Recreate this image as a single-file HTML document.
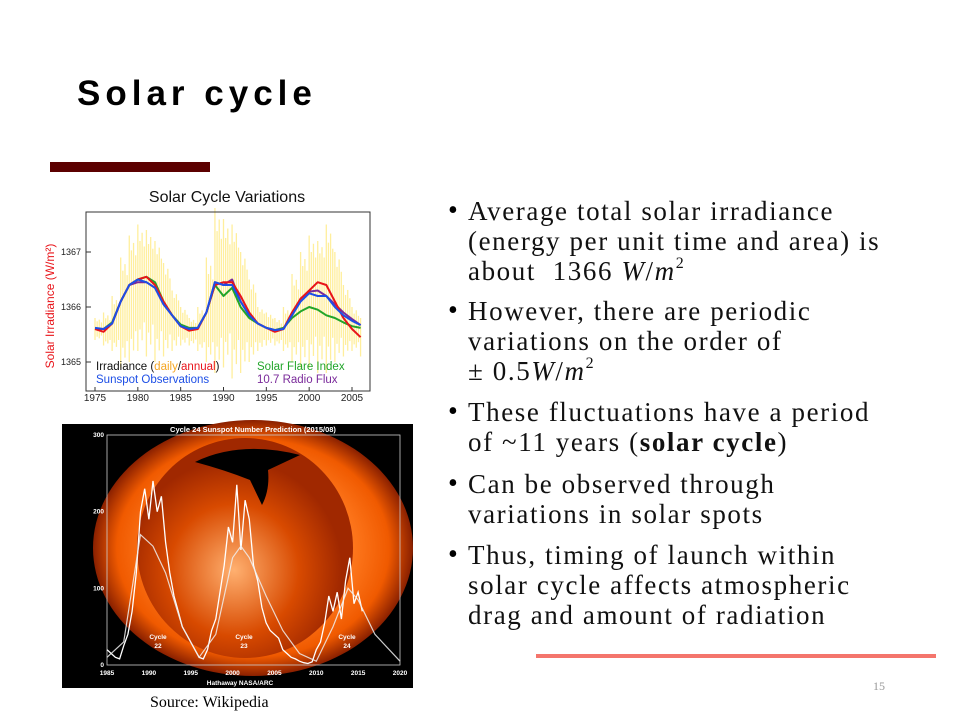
<!DOCTYPE html>
<html><head><meta charset="utf-8">
<style>
body{margin:0;width:960px;height:720px;background:#fff;position:relative;overflow:hidden;font-family:"Liberation Serif",serif;}
.t{position:absolute;white-space:nowrap;}
.line{position:absolute;left:468px;font-size:27px;letter-spacing:1.6px;color:#111;line-height:30px;white-space:nowrap;}
.bul{position:absolute;left:448px;font-size:28px;line-height:30px;}
i{font-family:"Liberation Serif",serif;}
sup{font-size:16px;line-height:0;position:relative;top:-2px;}
</style></head><body>
<div class="t" style="left:77px;top:74px;font:bold 35px 'Liberation Sans',sans-serif;letter-spacing:5px;color:#000;">Solar cycle</div>
<div style="position:absolute;left:50px;top:162px;width:160px;height:10px;background:#5c0000;"></div>

<svg id="top" style="position:absolute;left:0;top:0" width="960" height="720"></svg>

<div>
<div class="bul" style="top:196px">•</div>
<div class="line" style="top:196px">Average total solar irradiance</div>
<div class="line" style="top:226px">(energy per unit time and area) is</div>
<div class="line" style="top:256px">about &nbsp;1366 <i>W</i>/<i>m</i><sup>2</sup></div>
<div class="bul" style="top:296px">•</div>
<div class="line" style="top:296px">However, there are periodic</div>
<div class="line" style="top:326px">variations on the order of</div>
<div class="line" style="top:356px">± 0.5<i>W</i>/<i>m</i><sup>2</sup></div>
<div class="bul" style="top:397px">•</div>
<div class="line" style="top:397px">These fluctuations have a period</div>
<div class="line" style="top:427px">of ~11 years (<b>solar cycle</b>)</div>
<div class="bul" style="top:469px">•</div>
<div class="line" style="top:469px">Can be observed through</div>
<div class="line" style="top:499px">variations in solar spots</div>
<div class="bul" style="top:540px">•</div>
<div class="line" style="top:540px">Thus, timing of launch within</div>
<div class="line" style="top:570px">solar cycle affects atmospheric</div>
<div class="line" style="top:600px">drag and amount of radiation</div>
</div>
<div style="position:absolute;left:536px;top:654px;width:400px;height:4px;background:#f4756c;"></div>
<div class="t" style="left:873px;top:679px;font-size:12px;color:#999;">15</div>
<div class="t" style="left:150px;top:694px;font-size:16px;color:#000;">Source: Wikipedia</div>

<script>
// ---- Top chart data (Solar Cycle Variations) ----
const years=[1975,1976,1977,1978,1979,1980,1981,1982,1983,1984,1985,1986,1987,1988,1989,1990,1991,1992,1993,1994,1995,1996,1997,1998,1999,2000,2001,2002,2003,2004,2005,2006];
const annualRed=[1365.6,1365.55,1365.7,1366.1,1366.4,1366.5,1366.55,1366.4,1366.1,1365.85,1365.65,1365.57,1365.6,1365.9,1366.4,1366.45,1366.45,1366.2,1365.9,1365.7,1365.62,1365.55,1365.6,1365.9,1366.15,1366.3,1366.45,1366.4,1366.1,1365.8,1365.6,1365.45];
const sunspotBlue=[1365.62,1365.6,1365.7,1366.1,1366.4,1366.5,1366.45,1366.35,1366.05,1365.85,1365.65,1365.6,1365.62,1365.9,1366.45,1366.4,1366.4,1366.1,1365.85,1365.7,1365.62,1365.58,1365.6,1365.85,1366.1,1366.25,1366.2,1366.2,1366.0,1365.85,1365.75,1365.67];
const flareGreen=[1365.6,1365.6,1365.72,1366.1,1366.4,1366.5,1366.55,1366.45,1366.1,1365.85,1365.68,1365.62,1365.62,1365.9,1366.4,1366.2,1366.35,1366.0,1365.8,1365.7,1365.62,1365.58,1365.62,1365.8,1365.92,1366.0,1365.95,1365.85,1365.8,1365.72,1365.65,1365.62];
const radioPurple=[1365.6,1365.6,1365.7,1366.1,1366.4,1366.45,1366.45,1366.35,1366.05,1365.85,1365.65,1365.6,1365.62,1365.9,1366.45,1366.4,1366.5,1366.1,1365.85,1365.7,1365.62,1365.58,1365.6,1365.85,1366.15,1366.28,1366.3,1366.2,1366.05,1365.9,1365.78,1365.67];
const dailyHigh=[1365.8,1365.9,1366.2,1366.9,1367.3,1367.5,1367.4,1367.2,1366.8,1366.3,1366.0,1365.8,1366.0,1366.9,1367.8,1367.6,1367.5,1367.0,1366.5,1366.0,1365.9,1365.8,1366.0,1366.6,1367.0,1367.3,1367.2,1367.5,1367.0,1366.4,1366.0,1365.8];
const dailyLow=[1365.4,1365.3,1365.2,1364.9,1365.0,1365.2,1365.1,1365.0,1365.1,1365.2,1365.3,1365.3,1365.2,1365.0,1364.8,1364.9,1364.7,1364.8,1365.0,1365.2,1365.3,1365.3,1365.2,1365.0,1364.9,1364.9,1364.8,1364.8,1365.0,1365.1,1365.2,1365.1];
const xTicks=[1975,1980,1985,1990,1995,2000,2005];
const yTicks=[1365,1366,1367];
// ---- Bottom chart data (Cycle 24 sunspot prediction) ----
const ssYears=[1985,1985.5,1986,1986.5,1987,1987.5,1988,1988.5,1989,1989.5,1990,1990.5,1991,1991.5,1992,1992.5,1993,1993.5,1994,1994.5,1995,1995.5,1996,1996.5,1997,1997.5,1998,1998.5,1999,1999.5,2000,2000.5,2001,2001.5,2002,2002.5,2003,2003.5,2004,2004.5,2005,2005.5,2006,2006.5,2007,2007.5,2008,2008.5,2009,2009.5,2010,2010.5,2011,2011.5,2012,2012.5,2013,2013.5,2014,2014.5,2015,2015.5];
const ssValues=[20,15,10,8,25,40,70,120,200,230,190,240,200,220,160,120,90,70,50,40,30,20,10,8,20,45,60,95,130,180,160,235,150,215,190,130,110,75,55,45,40,35,20,15,10,8,5,3,2,4,20,30,55,90,70,95,60,110,140,80,95,70];
const predYears=[1985,1987,1989,1990.5,1992,1994,1996,1998,2000,2001,2002,2004,2006,2008,2010,2012,2013.8,2015,2017,2020];
const predValues=[10,30,170,155,120,50,10,40,140,155,140,90,45,15,5,50,100,85,40,5];
const ssTicksX=[1985,1990,1995,2000,2005,2010,2015,2020];
const ssTicksY=[0,100,200,300];

const NS='http://www.w3.org/2000/svg';
const svg=document.getElementById('top');
function el(tag,attrs,parent){const e=document.createElementNS(NS,tag);for(const k in attrs)e.setAttribute(k,attrs[k]);(parent||svg).appendChild(e);return e;}
function txt(x,y,s,attrs){const e=el('text',Object.assign({x:x,y:y},attrs));e.textContent=s;return e;}

const X=y=>95+(y-1975)*(352-95)/30;
const Y=v=>307-(v-1366)*55;
const g1=el('g',{});


el('rect',{x:86,y:212,width:284,height:179,fill:'#fff',stroke:'#333','stroke-width':1},g1);
for(let i=0;i<years.length;i++){
  for(let k=0;k<4;k++){
    const yr=years[i]+k*0.25;
    if(yr>2006.2)continue;
    const f=[1,0.7,0.85,0.6][k];
    const mid=annualRed[i];
    const s=el('line',{x1:X(yr),x2:X(yr),y1:Y(mid+(dailyHigh[i]-mid)*f),y2:Y(mid-(mid-dailyLow[i])*f),stroke:'#ffe45c','stroke-width':1.3,opacity:0.6},g1);
    
    
  }
}
function series(arr,color,name,w){
  let d='';arr.forEach((v,i)=>{d+=(i?'L':'M')+X(years[i]).toFixed(1)+','+Y(v).toFixed(1);});
  const p=el('path',{d:d,fill:'none',stroke:color,'stroke-width':w||2,'stroke-linejoin':'round'},g1);
  
  
}
series(flareGreen,'#22a52a','solar-flare-index-line');
series(radioPurple,'#7a2a9a','radio-flux-line');
series(annualRed,'#e8141a','annual-irradiance-line');
series(sunspotBlue,'#1d4fe6','sunspot-observations-line');
el('rect',{x:86,y:212,width:284,height:179,fill:'none',stroke:'#333','stroke-width':1},g1);
xTicks.forEach(t=>{el('line',{x1:X(t),x2:X(t),y1:391,y2:387,stroke:'#333'},g1);const e=txt(X(t),401,t,{'font-family':'Liberation Sans','font-size':10,'text-anchor':'middle',fill:'#222'},);});
yTicks.forEach(t=>{el('line',{x1:86,x2:91,y1:Y(t),y2:Y(t),stroke:'#333'},g1);const e=txt(81,Y(t)+3,t,{'font-family':'Liberation Sans','font-size':9,'text-anchor':'end',fill:'#222'});});
const tt=txt(227,202,'Solar Cycle Variations',{'font-family':'Liberation Sans','font-size':16,'text-anchor':'middle',fill:'#111'});

const yt=txt(0,0,'Solar Irradiance (W/m²)',{'font-family':'Liberation Sans','font-size':12,'text-anchor':'middle',fill:'#e8141a',transform:'translate(54,306) rotate(-90)'});

const lg=txt(96,370,'',{'font-family':'Liberation Sans','font-size':11.5,fill:'#111'});
lg.innerHTML='Irradiance (<tspan fill="#f5a623">daily</tspan>/<tspan fill="#e8141a">annual</tspan>)';

const l2=txt(96,383,'Sunspot Observations',{'font-family':'Liberation Sans','font-size':11.5,fill:'#1d4fe6'});
const l3=txt(257,370,'Solar Flare Index',{'font-family':'Liberation Sans','font-size':11.5,fill:'#22a52a'});
const l4=txt(257,383,'10.7 Radio Flux',{'font-family':'Liberation Sans','font-size':11.5,fill:'#7a2a9a'});

const defs=el('defs',{});
defs.innerHTML='<radialGradient id="sun" cx="50%" cy="50%" r="50%"><stop offset="0" stop-color="#ffb060"/><stop offset="0.6" stop-color="#ff7a20"/><stop offset="0.85" stop-color="#f05a00"/><stop offset="1" stop-color="#8a2000"/></radialGradient><radialGradient id="disk" cx="45%" cy="60%" r="50%"><stop offset="0" stop-color="#ffb070"/><stop offset="0.6" stop-color="#d84a00"/><stop offset="1" stop-color="#a02800"/></radialGradient>';
const g2=el('g',{});


el('rect',{x:62,y:424,width:351,height:264,fill:'#000'},g2);
el('ellipse',{cx:253,cy:548,rx:160,ry:128,fill:'url(#sun)'},g2);
el('ellipse',{cx:245,cy:548,rx:108,ry:110,fill:'url(#disk)'},g2);
el('path',{d:'M195,462 Q240,440 300,455 L268,470 Q270,490 262,505 L250,480 Q225,470 195,462Z',fill:'#000'},g2);
const SX=y=>107+(y-1985)*(400-107)/35;
const SY=v=>665-v*(230/300);
el('rect',{x:107,y:435,width:293,height:230,fill:'none',stroke:'#ccc','stroke-width':0.8},g2);
let d='';ssValues.forEach((v,i)=>{d+=(i?'L':'M')+SX(ssYears[i]).toFixed(1)+','+SY(v).toFixed(1);});
const sp=el('path',{d:d,fill:'none',stroke:'#fff','stroke-width':1.3},g2);
let d2='';predValues.forEach((v,i)=>{d2+=(i?'L':'M')+SX(predYears[i]).toFixed(1)+','+SY(v).toFixed(1);});
const pp=el('path',{d:d2,fill:'none',stroke:'#eee','stroke-width':1.2,opacity:0.85},g2);
ssTicksX.forEach(t=>{const e=txt(SX(t),675,t,{'font-family':'Liberation Sans','font-size':6.5,'font-weight':'bold','text-anchor':'middle',fill:'#fff'});});
ssTicksY.forEach(t=>{const e=txt(104,SY(t)+2,t,{'font-family':'Liberation Sans','font-size':6.5,'font-weight':'bold','text-anchor':'end',fill:'#fff'});});
const bt=txt(253,432,'Cycle 24 Sunspot Number Prediction (2015/08)',{'font-family':'Liberation Sans','font-size':7.5,'font-weight':'bold','text-anchor':'middle',fill:'#fff'});
const hc=txt(240,685,'Hathaway  NASA/ARC',{'font-family':'Liberation Sans','font-size':6.5,'font-weight':'bold','text-anchor':'middle',fill:'#fff'});
[[158,'22'],[244,'23'],[347,'24']].forEach(c=>{const a=txt(c[0],639,'Cycle',{'font-family':'Liberation Sans','font-size':6.5,'font-weight':'bold','text-anchor':'middle',fill:'#fff'});const b=txt(c[0],648,c[1],{'font-family':'Liberation Sans','font-size':6.5,'font-weight':'bold','text-anchor':'middle',fill:'#fff'});});
</script>
</body></html>
